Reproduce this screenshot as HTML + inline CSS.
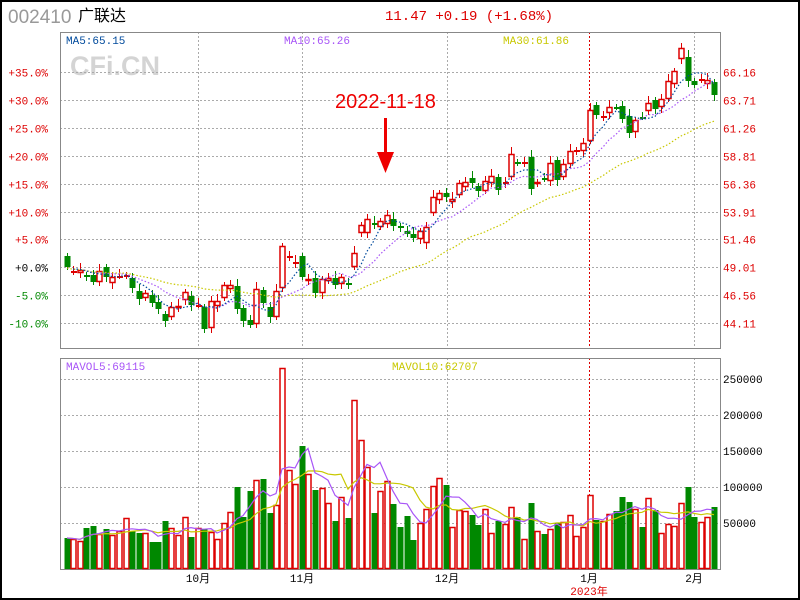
<!DOCTYPE html>
<html><head><meta charset="utf-8"><style>
html,body{margin:0;padding:0;background:#fff;width:800px;height:600px;overflow:hidden}
svg{display:block;font-family:"Liberation Mono","Noto Sans CJK SC",monospace}
</style></head><body>
<svg id="s" width="800" height="600" xmlns="http://www.w3.org/2000/svg">
<rect x="1" y="1" width="798" height="598" fill="#fff" stroke="#000" stroke-width="2"/>
<text x="8" y="23" style="font-family:'Liberation Sans',sans-serif" font-size="19" fill="#999">002410</text>
<text x="78" y="21" style="font-family:'Liberation Sans','Noto Sans CJK SC',sans-serif" font-size="16" fill="#000">广联达</text>
<text x="385" y="20" font-size="14" fill="#d00">11.47 +0.19 (+1.68%)</text>
<text x="70" y="75" style="font-family:'Liberation Sans',sans-serif;font-weight:bold" font-size="27" fill="#d4d4d4">CFi.CN</text>
<g id="g"></g>
<text x="66" y="44" font-size="11" fill="#004a9c">MA5:65.15</text>
<text x="284" y="44" font-size="11" fill="#a855f7">MA10:65.26</text>
<text x="503" y="44" font-size="11" fill="#c8c800">MA30:61.86</text>
<text x="66" y="370" font-size="11" fill="#a855f7">MAVOL5:69115</text>
<text x="392" y="370" font-size="11" fill="#c8c800">MAVOL10:62707</text>
<text x="335" y="108" style="font-family:'Liberation Sans',sans-serif" font-size="20" fill="#e00">2022-11-18</text>
<rect x="384" y="118" width="3" height="40" fill="#e00"/>
<polygon points="377,152 394,152 385.5,173" fill="#e00"/>
</svg>
<script>
var g=document.getElementById('g'),h='';
function L(x1,y1,x2,y2,c,d){h+='<line x1="'+x1+'" y1="'+y1+'" x2="'+x2+'" y2="'+y2+'" stroke="'+c+'" stroke-width="1"'+(d?' stroke-dasharray="'+d+'"':'')+'/>';}
function T(x,y,t,c,a){h+='<text x="'+x+'" y="'+y+'" font-size="11" fill="'+c+'"'+(a?' text-anchor="'+a+'"':'')+'>'+t+'</text>';}
var pl=['+35.0%','+30.0%','+25.0%','+20.0%','+15.0%','+10.0%','+5.0%','+0.0%','-5.0%','-10.0%'];
var pr=['66.16','63.71','61.26','58.81','56.36','53.91','51.46','49.01','46.56','44.11'];
for(var k=0;k<10;k++){var y=Math.round(72+k*27.9)+0.5;L(60,y,720,y,'#aaa','2,2');
var c=k<7?'#d00':(k==7?'#000':'#080');T(48,y+4,pl[k],c,'end');T(723,y+4,pr[k],'#d00');}
[379,415,451,487,523].forEach(function(y,i){L(60,y+.5,720,y+.5,'#aaa','2,2');T(723,y+4,['250000','200000','150000','100000','50000'][i],'#000');});
[198,302,447,694].forEach(function(x){L(x+.5,32,x+.5,348,'#aaa','2,2');L(x+.5,358,x+.5,569,'#aaa','2,2');});
L(589.5,32,589.5,348,'#d00','2,2');L(589.5,358,589.5,569,'#d00','2,2');
h+='<rect x="60.5" y="32.5" width="660" height="316" fill="none" stroke="#888"/>';
h+='<rect x="60.5" y="358.5" width="660" height="211" fill="none" stroke="#888"/>';
T(198,582,'10月','#000','middle');T(302,582,'11月','#000','middle');T(447,582,'12月','#000','middle');
T(589,582,'1月','#000','middle');T(694,582,'2月','#000','middle');T(589,595,'2023年','#d00','middle');
var C=[[67,'G',256,267],[73,'R',271,271],[80,'R',270,273],[86,'G',275,275],[93,'G',275,282],[99,'R',271,282],[106,'G',267,277],[112,'R',277,283],[119,'R',276,276],[126,'R',275,275],[132,'G',278,288],[139,'G',291,299],[145,'R',293,298],[152,'G',295,303],[158,'G',302,309],[165,'G',314,321],[171,'R',307,317],[178,'R',306,308],[185,'R',292,300],[191,'G',296,305],[198,'R',305,305],[204,'G',307,329],[211,'R',301,328],[217,'R',301,306],[224,'R',285,298],[230,'R',285,289],[237,'G',286,309],[243,'G',308,321],[250,'G',320,325],[256,'R',289,324],[263,'G',290,303],[270,'G',307,317],[276,'R',291,317],[282,'R',246,288],[289,'R',256,256],[295,'R',262,262],[302,'G',256,277],[308,'R',279,281],[315,'G',278,293],[322,'R',279,293],[328,'R',278,281],[335,'G',278,285],[341,'R',277,284],[348,'G',283,283],[354,'R',253,267],[361,'R',225,233],[367,'R',219,233],[374,'G',223,223],[380,'R',221,227],[387,'R',215,224],[393,'G',219,226],[400,'G',226,226],[407,'G',231,234],[413,'G',234,238],[420,'R',231,239],[426,'R',227,243],[433,'R',197,213],[439,'R',193,200],[446,'G',193,197],[452,'R',199,202],[459,'R',183,195],[465,'R',182,187],[472,'G',178,183],[478,'G',186,191],[485,'R',181,191],[491,'R',176,183],[498,'G',177,190],[505,'R',182,182],[511,'R',154,177],[517,'G',162,162],[524,'R',162,162],[531,'G',157,189],[537,'R',182,184],[544,'G',178,178],[550,'R',163,181],[557,'G',160,180],[563,'R',164,177],[570,'R',151,164],[576,'R',150,150],[583,'R',143,151],[590,'R',110,141],[596,'G',105,115],[603,'R',116,116],[609,'R',107,113],[616,'G',107,107],[622,'G',106,119],[629,'G',116,133],[635,'R',120,132],[642,'G',117,117],[648,'R',103,111],[655,'G',100,109],[661,'R',99,107],[668,'R',81,99],[674,'R',71,84],[681,'R',48,59],[688,'G',57,81],[694,'G',81,85],[701,'R',79,79],[707,'R',80,84],[714,'G',82,95]];
var V=[538,539,541,528,526,534,529,535,531,518,531,533,533,542,542,521,528,535,517,537,528,529,532,539,523,512,487,517,491,480,479,513,505,368,470,484,446,474,490,488,503,521,497,518,400,440,467,513,491,481,504,527,516,540,523,509,486,478,485,527,510,511,515,525,509,533,521,524,507,517,539,503,531,534,529,523,522,515,536,527,495,520,521,514,511,497,502,509,527,498,510,533,524,526,503,487,517,522,517,507];
var cl=[];
C.forEach(function(d,i){var x=d[0],red=d[1]=='R',col=red?'#d00':'#080',t=d[2],b=d[3];
var hi=t-3-(i%3)*2,lo=b+3+(i%4);L(x+.5,hi,x+.5,lo,col);
if(b-t<2){L(x-2,t+.5,x+4,t+.5,col);h+='<rect x="'+(x-2)+'" y="'+t+'" width="6" height="2" fill="'+col+'"/>';}
else if(red)h+='<rect x="'+(x-2)+'" y="'+(t+.5)+'" width="5" height="'+(b-t-1)+'" fill="#fff" stroke="'+col+'" stroke-width="1.5"/>';
else h+='<rect x="'+(x-2.5)+'" y="'+t+'" width="6" height="'+(b-t)+'" fill="'+col+'"/>';
cl.push(red?t:b);
var vt=V[i];
if(red)h+='<rect x="'+(x-2)+'" y="'+(vt+.5)+'" width="5" height="'+(568-vt)+'" fill="#fff" stroke="#d00" stroke-width="1.5"/>';
else h+='<rect x="'+(x-2.5)+'" y="'+vt+'" width="6" height="'+(569-vt)+'" fill="#080"/>';});
function ma(a,n){return a.map(function(_,i){var s=0,c=0;for(var j=Math.max(0,i-n+1);j<=i;j++){s+=a[j];c++;}return s/c;});}
function pl2(a,col,d,st){var p=a.slice(st).map(function(v,i){return C[i+st][0]+','+v.toFixed(1)}).join(' ');h+='<polyline points="'+p+'" fill="none" stroke="'+col+'" stroke-width="1.2"'+(d?' stroke-dasharray="'+d+'"':'')+'/>';}
var m30=ma(cl,30).map(function(v,i){return i<30?v*0.7+270*0.3*(1-i/30)+v*0.3*(i/30):v;});
pl2(m30,'#c8c800','1.5,2',0);pl2(ma(cl,10),'#a855f7','1.5,2',1);pl2(ma(cl,5),'#004a9c','1.5,2',1);
pl2(ma(V,10),'#c8c800','',0);pl2(ma(V,5),'#a855f7','',0);
g.innerHTML=h;
</script>
</body></html>
